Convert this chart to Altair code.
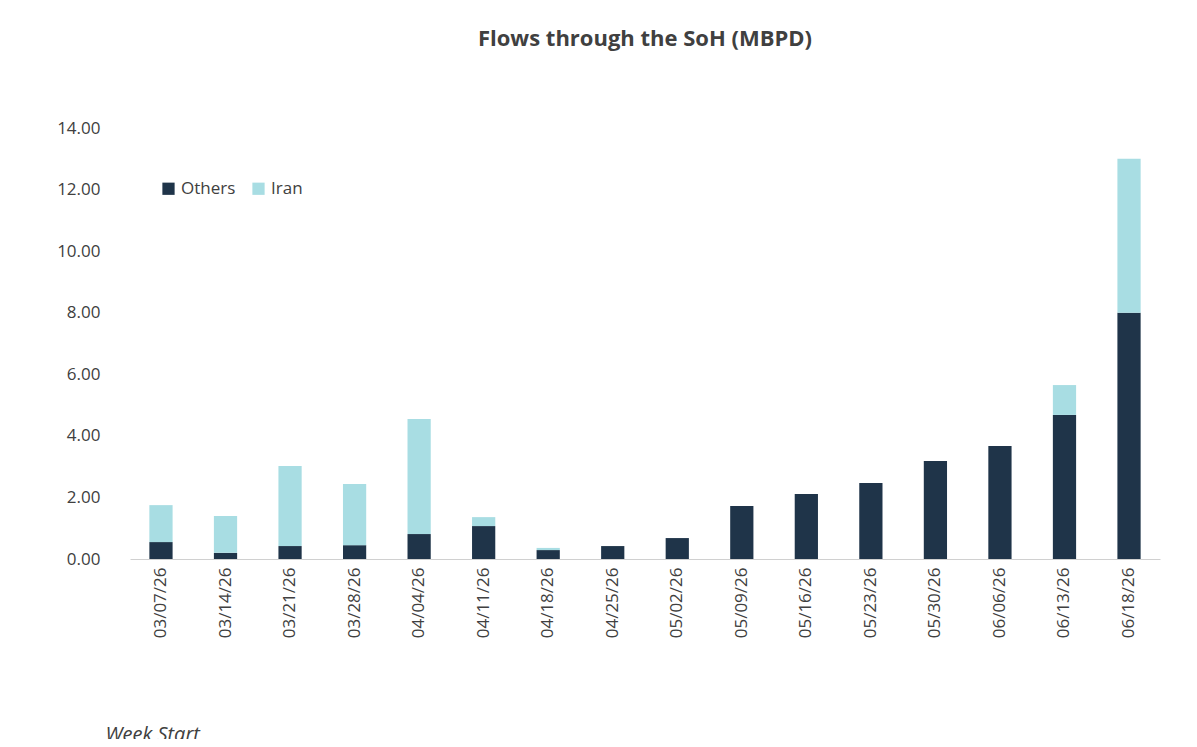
import altair as alt
import pandas as pd

weeks = ["03/07/26", "03/14/26", "03/21/26", "03/28/26", "04/04/26", "04/11/26",
         "04/18/26", "04/25/26", "05/02/26", "05/09/26", "05/16/26", "05/23/26",
         "05/30/26", "06/06/26", "06/13/26", "06/18/26"]
others = [0.55, 0.2, 0.42, 0.45, 0.81, 1.07, 0.29, 0.42, 0.68, 1.72, 2.11, 2.47,
          3.18, 3.67, 4.68, 8.0]
iran = [1.2, 1.2, 2.6, 1.99, 3.74, 0.29, 0.07, 0.0, 0.0, 0.0, 0.0, 0.0,
        0.0, 0.0, 0.97, 5.0]

rows = []
for w, o, i in zip(weeks, others, iran):
    rows.append({"week": w, "series": "Others", "value": o, "ord": 0})
    rows.append({"week": w, "series": "Iran", "value": i, "ord": 1})
data = pd.DataFrame(rows)

chart = (
    alt.Chart(data)
    .mark_bar()
    .encode(
        x=alt.X(
            "week:N", sort=weeks, title="Week Start",
            scale=alt.Scale(paddingInner=0.64, paddingOuter=0.3),
            axis=alt.Axis(labelAngle=-90, labelFontSize=17, labelColor="#404040",
                          labelPadding=8, ticks=False, domainColor="#d0d0d0",
                          titleFontSize=20, titleFontStyle="italic", titleFontWeight="normal",
                          titleColor="#404040", titleAlign="left", titleAnchor="start",
                          titleX=-25, titleY=165),
        ),
        y=alt.Y(
            "value:Q", stack="zero", title=None,
            scale=alt.Scale(domain=[0, 14]),
            axis=alt.Axis(values=[0, 2, 4, 6, 8, 10, 12, 14], format=".2f", grid=False,
                          domain=False, ticks=False, labelFontSize=17, labelColor="#404040",
                          labelPadding=30),
        ),
        color=alt.Color(
            "series:N", sort=["Others", "Iran"],
            scale=alt.Scale(domain=["Others", "Iran"], range=["#1f3449", "#a8dde3"]),
            legend=alt.Legend(title=None, orient="none", legendX=30, legendY=52,
                              direction="horizontal", labelFontSize=17, labelColor="#404040",
                              symbolType="square", symbolSize=150, columnPadding=14),
        ),
        order=alt.Order("ord:Q"),
    )
    .properties(
        width=1030, height=431,
        autosize=alt.AutoSizeParams(type="none"),
        padding={"left": 122, "top": 120, "right": 20, "bottom": 180},
        title=alt.TitleParams("Flows through the SoH (MBPD)", fontSize=22, fontWeight="bold",
                              color="#404040", offset=68, anchor="middle"),
    )
    .configure(font="Open Sans", view=alt.ViewConfig(strokeOpacity=0))
)

chart.save("out.html", embed_options={"renderer": "svg", "actions": False})
